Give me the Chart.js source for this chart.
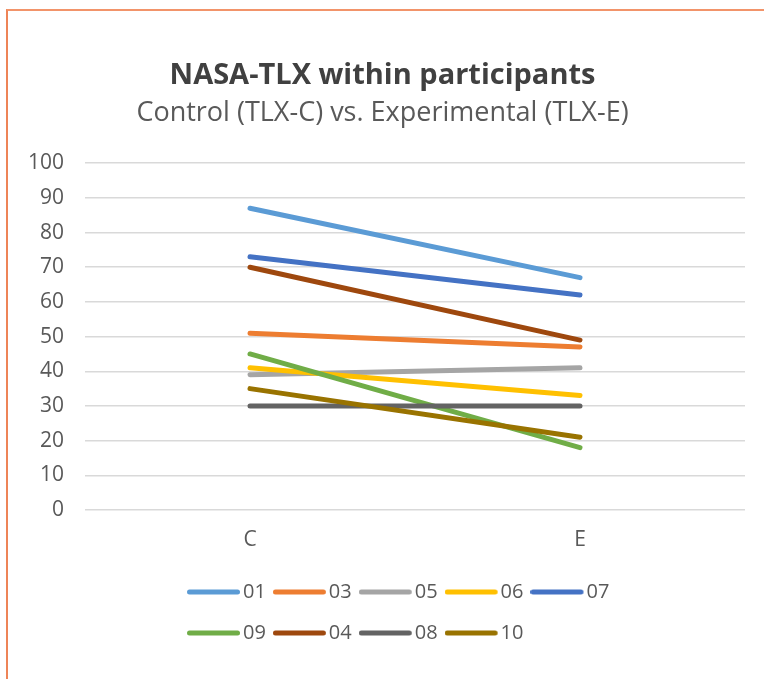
<!DOCTYPE html>
<html>
<head>
<meta charset="utf-8">
<title>NASA-TLX within participants</title>
<script src="https://cdn.jsdelivr.net/npm/chart.js@4/dist/chart.umd.min.js"></script>
<style>
  html, body { margin: 0; padding: 0; background: #ffffff; overflow: hidden; }
  #wrap { position: relative; width: 764px; height: 679px; overflow: hidden; }
  #frame {
    position: absolute; left: 6px; top: 9px; width: 800px; height: 700px;
    border-top: 2px solid #f2946a; border-left: 2px solid #ee8457;
  }
  #tlxChart { position: absolute; left: 0; top: 0; }
</style>
</head>
<body>
<div id="wrap">
  <div id="frame"></div>
  <canvas id="tlxChart" width="764" height="679"></canvas>
</div>
<script>
// conditions on the x axis
const conditions = ["C", "E"];

// one score pair per participant
const participants = ["01", "03", "05", "06", "07", "09", "04", "08", "10"];
const p01 = [87, 67];
const p03 = [51, 47];
const p05 = [39, 41];
const p06 = [41, 33];
const p07 = [73, 62];
const p09 = [45, 18];
const p04 = [70, 49];
const p08 = [30, 30];
const p10 = [35, 21];

const seriesColors = ["#5b9bd5", "#ed7d31", "#a5a5a5", "#ffc000", "#4472c4",
                      "#70ad47", "#9e480e", "#636363", "#997300"];

const yTicks = [0, 10, 20, 30, 40, 50, 60, 70, 80, 90, 100];

const FONT = "'Open Sans', 'Noto Sans', sans-serif";
const TEXT_COLOR = "#595959";

// small canvas with a rounded stroke, used as the legend swatch
function makeSwatch(color){
  let c = document.createElement("canvas");
  c.width = 60;
  c.height = 8;
  let g = c.getContext("2d");
  g.strokeStyle = color;
  g.lineWidth = 5;
  g.lineCap = "round";
  g.beginPath();
  g.moveTo(2.5, 4);
  g.lineTo(50.5, 4);
  g.stroke();
  return c;
}

// keep the legend to five items per row, starting under the plot like excel does
const legendPlacer = {
  id: "legendPlacer",
  afterLayout(chart){
    chart.legend.left = 180;
    chart.legend.right = 660;
  }
};

document.addEventListener("DOMContentLoaded", () => {
  let values = [p01, p03, p05, p06, p07, p09, p04, p08, p10];

  let datasets = participants.map((name, i) => {
    return {
      label: name,
      data: values[i],
      borderColor: seriesColors[i],
      backgroundColor: seriesColors[i],
      borderWidth: 5,
      borderCapStyle: "round",
      pointRadius: 0,
      tension: 0,
      order: -i   // later series drawn on top
    };
  });

  let context = document.getElementById("tlxChart").getContext("2d");
  new Chart(context, {
    type: "line",
    data: { labels: conditions, datasets: datasets },
    plugins: [legendPlacer],
    options: {
      responsive: false,
      animation: false,
      layout: { padding: { top: 58, left: 20, right: 19, bottom: 26 } },
      scales: {
        x: {
          offset: true,
          grid: { display: false, drawTicks: false },
          border: { display: false },
          ticks: { padding: 17, color: TEXT_COLOR, font: { family: FONT, size: 21 } },
          afterFit(scale){ scale.height = 51; }
        },
        y: {
          min: 0,
          max: 100,
          afterBuildTicks(scale){ scale.ticks = yTicks.map(v => ({ value: v })); },
          grid: { color: "#d9d9d9", lineWidth: 1.5, drawTicks: false },
          border: { display: false },
          ticks: { padding: 21, color: TEXT_COLOR, font: { family: FONT, size: 21 } },
          afterFit(scale){ scale.width = 65; }
        }
      },
      plugins: {
        title: {
          display: true,
          text: "NASA-TLX within participants",
          color: "#404040",
          font: { family: FONT, size: 29, weight: "bold" },
          padding: { top: 0, bottom: 4 }
        },
        subtitle: {
          display: true,
          text: "Control (TLX-C) vs. Experimental (TLX-E)",
          color: TEXT_COLOR,
          font: { family: FONT, size: 27 },
          padding: { top: 0, bottom: 34 }
        },
        legend: {
          position: "bottom",
          align: "start",
          labels: {
            usePointStyle: true,
            pointStyleWidth: 32,
            padding: 21,
            color: TEXT_COLOR,
            font: { family: FONT, size: 20 },
            generateLabels(chart){
              return chart.data.datasets.map((ds, i) => ({
                text: ds.label,
                pointStyle: makeSwatch(ds.borderColor),
                fillStyle: ds.borderColor,
                strokeStyle: ds.borderColor,
                fontColor: TEXT_COLOR,
                lineWidth: 0,
                hidden: false,
                datasetIndex: i
              }));
            }
          }
        },
        tooltip: { enabled: false }
      }
    }
  });
});
</script>
</body>
</html>
